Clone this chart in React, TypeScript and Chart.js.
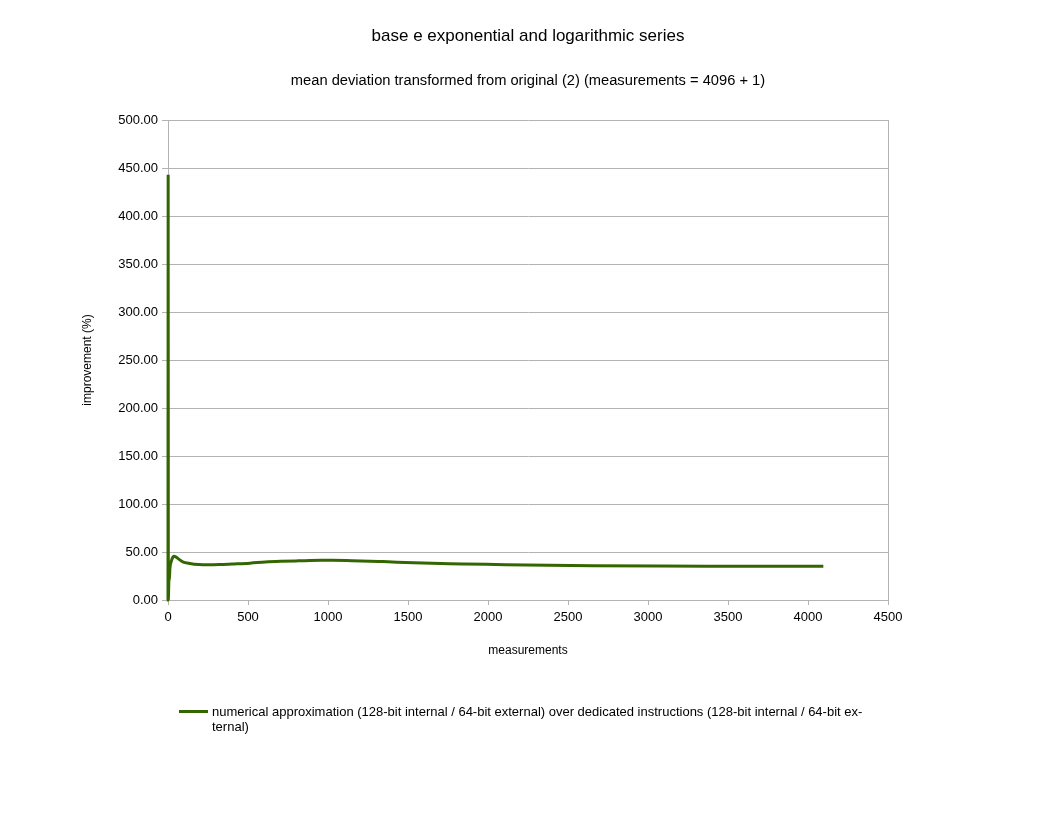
import { useEffect, useRef } from "react"
import { Chart, registerables } from "chart.js"

Chart.register(...registerables)

const TITLE = "base e exponential and logarithmic series"
const SUBTITLE = "mean deviation transformed from original (2) (measurements = 4096 + 1)"
const X_TITLE = "measurements"
const Y_TITLE = "improvement (%)"
const SERIES_LABEL =
  "numerical approximation (128-bit internal / 64-bit external) over dedicated instructions (128-bit internal / 64-bit ex\u00ADternal)"

const measurements = [
  0, 1, 2, 6, 8, 12, 20, 36, 48, 64, 96, 128, 192, 256, 320, 400, 512, 608, 704, 816, 960, 1024,
  1152, 1344, 1536, 1760, 1856, 2048, 2240, 2656, 3072, 3488, 4096,
]
const improvement = [
  0, 443, 0, 22, 20, 33, 40, 45.5, 45, 43, 39.5, 38.3, 36.9, 36.7, 36.9, 37.5, 38.4, 39.6, 40.3,
  40.8, 41.3, 41.3, 41.0, 40.0, 38.8, 37.8, 37.5, 37.0, 36.5, 35.8, 35.4, 35.2, 35.1,
]

const FONT = "'Liberation Sans', Arial, sans-serif"
const GRID = "#b3b3b3"
const LINE = "#336600"

export default function App() {
  const canvasRef = useRef<HTMLCanvasElement>(null)
  const chartRef = useRef<Chart | null>(null)

  useEffect(() => {
    document.body.style.margin = "0"
    if (!canvasRef.current) return
    if (chartRef.current) chartRef.current.destroy()

    chartRef.current = new Chart(canvasRef.current, {
      type: "line",
      data: {
        datasets: [
          {
            label: SERIES_LABEL,
            data: measurements.map((m, i) => ({ x: m, y: improvement[i] })),
            borderColor: LINE,
            backgroundColor: LINE,
            borderWidth: 3,
            pointRadius: 0,
            cubicInterpolationMode: "monotone",
            clip: 4,
            yAxisID: "y",
          },
        ],
      },
      options: {
        responsive: false,
        animation: false,
        layout: { padding: { left: 0, right: 0, top: 0, bottom: 156 } },
        plugins: {
          legend: { display: false },
          tooltip: { enabled: false },
          title: {
            display: true,
            text: TITLE,
            color: "#000",
            font: { family: FONT, size: 17, weight: "normal" },
            padding: { top: 26, bottom: 0 },
          },
          subtitle: {
            display: true,
            text: SUBTITLE,
            color: "#000",
            font: { family: FONT, size: 14.7, weight: "normal" },
            padding: { top: 26, bottom: 30 },
          },
        },
        scales: {
          x: {
            type: "linear",
            min: 0,
            max: 4500,
            ticks: {
              stepSize: 500,
              color: "#000",
              padding: 5,
              maxRotation: 0,
              font: { family: FONT, size: 13 },
              callback: (v) => String(v),
            },
            grid: {
              color: (ctx) =>
                ctx.tick && (ctx.tick.value === 0 || ctx.tick.value === 4500) ? GRID : "rgba(0,0,0,0)",
              tickColor: GRID,
              tickLength: 5,
            },
            border: { color: GRID },
            title: {
              display: true,
              text: X_TITLE,
              color: "#000",
              font: { family: FONT, size: 12 },
              padding: { top: 0, bottom: 2 },
            },
            afterFit: (s) => {
              s.height = 60
            },
          },
          y: {
            type: "linear",
            position: "left",
            min: 0,
            max: 500,
            ticks: {
              stepSize: 50,
              color: "#000",
              padding: 4,
              font: { family: FONT, size: 13 },
              callback: (v) => Number(v).toFixed(2),
            },
            grid: { color: GRID, tickColor: GRID, tickLength: 6 },
            border: { color: GRID },
            title: {
              display: true,
              text: Y_TITLE,
              color: "#000",
              font: { family: FONT, size: 12 },
              padding: { top: 80, bottom: 0 },
            },
            afterFit: (s) => {
              s.width = 168
            },
          },
          yRight: {
            type: "linear",
            position: "right",
            display: true,
            grid: { display: false },
            ticks: { display: false },
            border: { display: false },
            afterFit: (s) => {
              s.width = 168
            },
          },
        },
      },
    })

    return () => {
      if (chartRef.current) chartRef.current.destroy()
      chartRef.current = null
    }
  }, [])

  return (
    <div style={{ position: "relative", width: 1056, height: 816, background: "#fff" }}>
      <canvas ref={canvasRef} width={1056} height={816} />
      <div
        style={{
          position: "absolute",
          left: 179,
          top: 710,
          width: 29,
          height: 3,
          background: LINE,
        }}
      />
      <div
        lang="en"
        style={{
          position: "absolute",
          left: 212,
          top: 704,
          width: 656,
          fontFamily: FONT,
          fontSize: 13,
          lineHeight: "15px",
          color: "#000",
        }}
      >
        {SERIES_LABEL}
      </div>
    </div>
  )
}
